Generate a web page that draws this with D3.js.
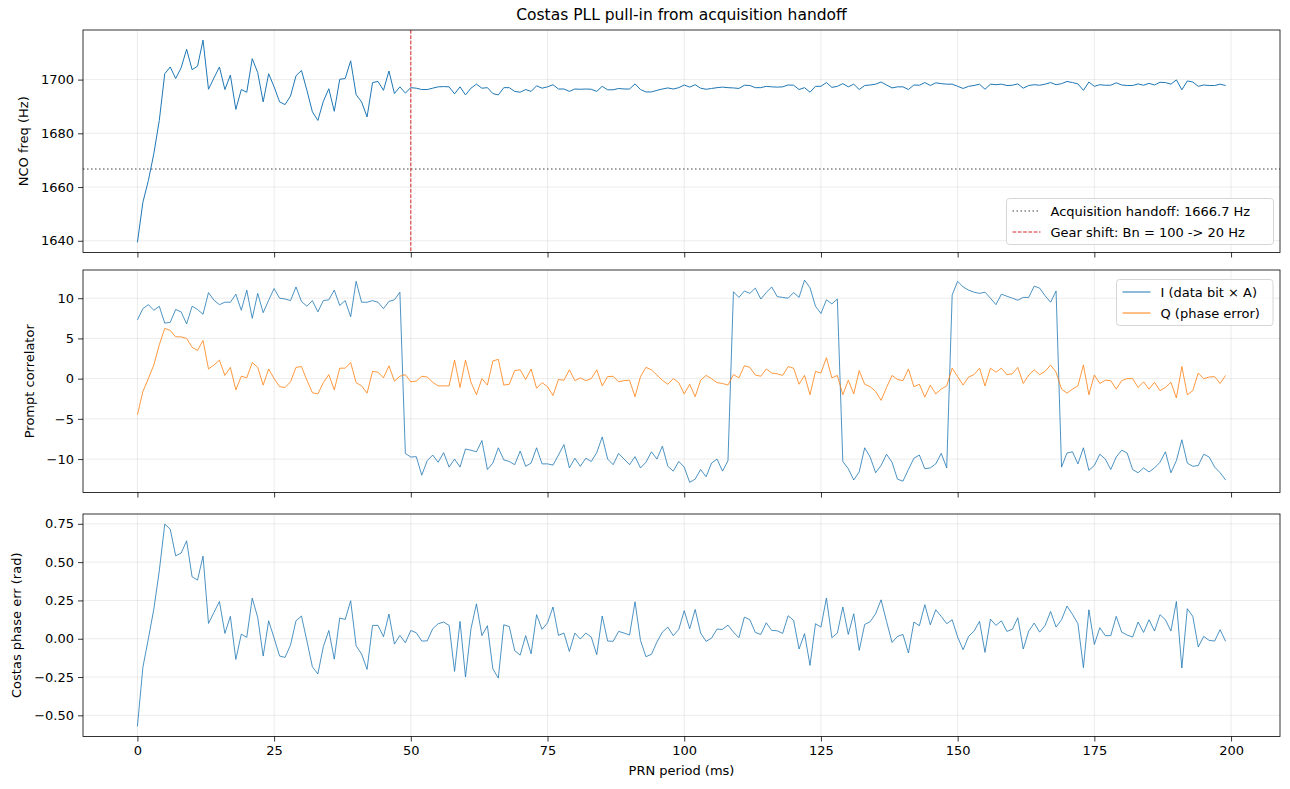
<!DOCTYPE html>
<html>
<head>
<meta charset="utf-8">
<script src="https://cdn.jsdelivr.net/npm/d3@7"></script>
<style>
  body { margin: 0; background: #fff; }
  svg text { font-family: "DejaVu Sans", sans-serif; fill: #000; }
</style>
</head>
<body>
<svg id="chart"></svg>
<script>
// PRN period index (ms)
const prnPeriod = d3.range(200);

// NCO frequency (Hz)
const ncoFreq = [
  1639.4, 1654.3, 1662.4, 1672.4, 1684.8, 1702.2, 1704.7, 1700.4, 1704.4, 1711.3,
  1703.7, 1705.0, 1714.7, 1696.4, 1700.6, 1704.7, 1696.3, 1701.7, 1688.9, 1696.3,
  1695.3, 1707.8, 1702.6, 1691.7, 1702.2, 1697.3, 1691.7, 1690.7, 1693.9, 1701.4,
  1703.4, 1696.0, 1688.0, 1684.8, 1691.9, 1696.6, 1688.2, 1700.1, 1700.4, 1707.0,
  1694.4, 1691.7, 1686.1, 1698.9, 1699.3, 1696.0, 1703.2, 1694.8, 1697.3, 1695.0,
  1697.0, 1696.8, 1696.3, 1696.3, 1696.8, 1697.3, 1697.4, 1697.3, 1694.7, 1697.3,
  1694.3, 1696.8, 1698.3, 1696.8, 1697.0, 1694.8, 1694.3, 1697.0, 1697.0, 1695.6,
  1695.3, 1696.3, 1695.6, 1697.7, 1696.8, 1697.3, 1698.1, 1696.5, 1696.5, 1695.6,
  1696.5, 1696.4, 1696.5, 1696.4, 1695.6, 1697.5, 1696.2, 1696.2, 1696.7, 1696.5,
  1696.5, 1698.4, 1696.3, 1695.4, 1695.4, 1696.0, 1696.5, 1696.9, 1696.5, 1697.0,
  1698.0, 1697.2, 1698.1, 1696.8, 1696.4, 1696.7, 1697.0, 1697.2, 1697.0, 1696.9,
  1696.7, 1697.9, 1697.8, 1697.0, 1697.0, 1697.5, 1697.3, 1697.2, 1697.3, 1698.0,
  1697.9, 1696.3, 1697.0, 1695.3, 1697.5, 1697.5, 1698.9, 1697.1, 1697.5, 1698.5,
  1697.3, 1698.3, 1696.3, 1697.8, 1698.0, 1698.3, 1699.1, 1698.0, 1696.9, 1697.3,
  1697.3, 1696.3, 1698.0, 1697.9, 1698.9, 1697.8, 1698.8, 1698.5, 1698.3, 1698.3,
  1697.5, 1696.7, 1697.5, 1697.8, 1698.3, 1696.4, 1698.3, 1698.1, 1698.3, 1697.8,
  1697.9, 1698.4, 1696.8, 1697.8, 1698.1, 1697.9, 1698.3, 1698.9, 1698.1, 1698.5,
  1699.3, 1698.9, 1698.4, 1696.0, 1699.1, 1697.5, 1698.1, 1697.9, 1697.9, 1698.8,
  1698.0, 1697.8, 1697.8, 1698.4, 1697.9, 1698.6, 1698.0, 1699.0, 1698.9, 1698.3,
  1699.9, 1696.2, 1699.5, 1699.1, 1697.5, 1698.0, 1697.8, 1697.8, 1698.3, 1697.8
];

// prompt correlator, in-phase arm
const promptI = [
  7.3, 8.7, 9.2, 8.5, 9.0, 6.9, 7.0, 8.6, 8.3, 6.8,
  9.0, 8.6, 8.0, 10.7, 9.75, 9.2, 9.5, 9.5, 10.5, 8.5,
  11.0, 7.5, 10.6, 8.2, 9.75, 11.2, 10.0, 9.9, 9.7, 11.4,
  9.6, 9.0, 9.7, 8.3, 9.7, 9.8, 11.0, 9.1, 9.7, 7.7,
  12.1, 9.5, 9.5, 9.7, 9.5, 8.7, 9.6, 9.8, 10.75, -9.3,
  -9.75, -9.7, -12.0, -10.2, -9.5, -10.4, -9.2, -11.0, -10.0, -11.0,
  -8.75, -8.9, -9.1, -7.7, -11.3, -10.5, -8.6, -10.1, -10.3, -10.7,
  -9.0, -10.9, -10.5, -8.6, -10.6, -10.6, -10.75, -9.5, -8.2, -11.1,
  -9.9, -10.9, -9.9, -10.3, -9.2, -7.25, -10.0, -10.7, -9.3, -10.0,
  -10.7, -9.7, -11.1, -10.4, -9.1, -10.0, -8.4, -10.9, -11.5, -10.3,
  -11.0, -12.9, -12.5, -11.3, -12.2, -10.5, -10.0, -11.5, -10.2, 10.8,
  10.1, 10.9, 10.6, 11.25, 9.9, 10.7, 11.4, 10.2, 10.1, 10.0,
  10.7, 10.1, 12.25, 11.3, 9.0, 8.1, 9.8, 9.3, 9.9, -10.3,
  -11.2, -12.6, -11.6, -8.6, -9.75, -11.7, -10.8, -9.4, -10.4, -12.5,
  -12.75, -11.3, -9.9, -9.5, -11.2, -11.1, -10.6, -9.3, -11.1, 10.4,
  12.1, 11.4, 11.0, 10.75, 10.6, 10.75, 10.0, 9.2, 10.5, 10.25,
  10.0, 9.75, 10.1, 10.1, 11.5, 11.25, 10.3, 9.5, 10.9, -11.0,
  -9.25, -9.1, -10.6, -8.6, -11.4, -10.8, -9.4, -10.0, -11.3, -9.75,
  -8.9, -9.25, -11.3, -11.7, -11.1, -11.6, -11.1, -10.4, -9.1, -11.7,
  -10.2, -7.6, -10.5, -10.9, -10.8, -9.4, -9.75, -11.0, -11.7, -12.6
];

// prompt correlator, quadrature arm
const promptQ = [
  -4.5, -1.6, 0.0, 1.7, 4.2, 6.25, 6.0, 5.2, 5.2, 5.0,
  3.9, 3.5, 4.75, 1.2, 1.7, 2.3, 0.4, 1.4, -1.4, 0.3,
  0.1, 2.0, 1.4, -0.8, 1.2, 0.0, -1.0, -1.1, -0.4, 1.4,
  1.5, -0.2, -1.75, -1.9, -0.5, 0.5, -1.4, 1.3, 1.3, 2.0,
  -0.5, -0.9, -1.8, 0.9, 0.8, 0.1, 1.6, -0.3, 0.3, 0.5,
  -0.4, -0.3, 0.3, 0.2, -0.45, -0.9, -0.9, -0.9, 2.3, -1.1,
  2.3, -0.45, -2.0, 0.0, -0.8, 2.2, 2.4, -0.8, -0.7, 1.0,
  1.1, -0.1, 1.2, -1.2, -0.5, -1.0, -2.1, -0.1, -0.2, 1.1,
  -0.25, 0.1, -0.25, 0.0, 1.1, -0.9, 0.25, 0.3, -0.4, -0.25,
  -0.2, -2.25, 0.25, 1.4, 1.1, 0.45, -0.2, -0.7, 0.0, -0.5,
  -1.9, -0.7, -2.25, -0.2, 0.4, 0.0, -0.5, -0.6, -0.8, 0.5,
  0.1, 1.6, 1.4, 0.45, 0.3, 1.2, 0.7, 0.6, 0.4, 1.5,
  1.3, -0.7, 0.4, -2.0, 0.9, 0.7, 2.6, 0.1, 0.4, -2.0,
  -0.2, -1.9, 1.0, -0.7, -1.0, -1.6, -2.7, -1.1, 0.4, -0.1,
  -0.25, 1.2, -1.0, -0.7, -2.3, -0.8, -1.9, -1.3, -0.9, 1.3,
  0.25, -0.8, 0.2, 0.5, 1.3, -0.9, 1.3, 0.8, 1.3, 0.5,
  0.6, 1.4, -0.6, 0.45, 1.1, 0.5, 0.9, 1.7, 0.8, -1.3,
  -1.8, -1.3, -0.9, 1.7, -2.0, 0.45, -0.6, -0.2, -0.25, -1.3,
  -0.25, 0.0, 0.0, -1.1, -0.4, -1.3, -0.45, -1.5, -1.1, -0.45,
  -2.4, 1.5, -2.0, -1.5, 0.7, 0.0, 0.2, 0.25, -0.6, 0.4
];

// Costas discriminator output (rad)
const phaseErr = [
  -0.572, -0.187, 0.0, 0.193, 0.443, 0.748, 0.715, 0.541, 0.559, 0.639,
  0.404, 0.383, 0.539, 0.100, 0.172, 0.243, 0.035, 0.146, -0.135, 0.030,
  0.009, 0.265, 0.139, -0.113, 0.117, 0.004, -0.113, -0.122, -0.041, 0.117,
  0.148, -0.015, -0.183, -0.230, -0.052, 0.054, -0.133, 0.135, 0.126, 0.248,
  -0.046, -0.100, -0.200, 0.087, 0.087, 0.013, 0.161, -0.035, 0.022, -0.026,
  0.054, 0.039, -0.015, -0.014, 0.065, 0.098, 0.109, 0.087, -0.213, 0.113,
  -0.250, 0.065, 0.228, 0.020, 0.085, -0.196, -0.257, 0.091, 0.080, -0.078,
  -0.107, 0.020, -0.098, 0.157, 0.061, 0.104, 0.207, 0.022, 0.037, -0.083,
  0.037, -0.002, 0.037, 0.011, -0.104, 0.148, -0.015, -0.017, 0.048, 0.037,
  0.024, 0.241, -0.011, -0.117, -0.102, -0.022, 0.043, 0.076, 0.020, 0.061,
  0.183, 0.065, 0.191, 0.037, -0.017, 0.004, 0.063, 0.061, 0.089, 0.043,
  0.007, 0.141, 0.124, 0.041, 0.028, 0.104, 0.054, 0.052, 0.035, 0.150,
  0.120, -0.067, 0.033, -0.174, 0.098, 0.076, 0.265, 0.007, 0.037, 0.207,
  0.028, 0.163, -0.076, 0.093, 0.111, 0.163, 0.254, 0.113, -0.024, 0.015,
  0.028, -0.093, 0.109, 0.085, 0.222, 0.091, 0.189, 0.146, 0.098, 0.124,
  0.011, -0.072, 0.015, 0.050, 0.113, -0.089, 0.128, 0.087, 0.117, 0.048,
  0.061, 0.137, -0.067, 0.050, 0.102, 0.043, 0.087, 0.178, 0.076, 0.124,
  0.213, 0.159, 0.098, -0.189, 0.189, -0.037, 0.072, 0.020, 0.020, 0.146,
  0.043, 0.024, 0.011, 0.109, 0.041, 0.124, 0.050, 0.157, 0.124, 0.050,
  0.243, -0.191, 0.196, 0.146, -0.054, 0.015, -0.011, -0.015, 0.059, -0.017
];

const handoffFreq = 1666.7;
const gearShiftAt = 50;

const xTicks = [0, 25, 50, 75, 100, 125, 150, 175, 200];
const freqTicks = [1640, 1660, 1680, 1700];
const corrTicks = [-10, -5, 0, 5, 10];
const errTicks = [-0.5, -0.25, 0, 0.25, 0.5, 0.75];

const width = 1290;
const height = 789;
const plotLeft = 83;
const plotRight = 1280;
const panelTop = [30, 270, 514];
const panelHeight = 222.5;

const blue = "#1f77b4";
const orange = "#ff7f0e";

const svg = d3.select("#chart")
  .attr("width", width)
  .attr("height", height);

// matplotlib style 5% padding
function padded(values) {
  const [lo, hi] = d3.extent(values);
  const m = (hi - lo) * 0.05;
  return [lo - m, hi + m];
}

const x = d3.scaleLinear()
  .domain(padded(prnPeriod))
  .range([plotLeft, plotRight]);

function drawPanel(i, yDomain, yTicks, yFormat, yLabel, yLabelX, showX) {
  const top = panelTop[i];
  const bottom = top + panelHeight;
  const y = d3.scaleLinear().domain(yDomain).range([bottom, top]);

  const g = svg.append("g");

  g.append("clipPath").attr("id", "clip" + i)
    .append("rect")
    .attr("x", plotLeft).attr("y", top)
    .attr("width", plotRight - plotLeft).attr("height", panelHeight);

  // grid
  const grid = g.append("g")
    .attr("stroke", "#b0b0b0")
    .attr("stroke-opacity", 0.3)
    .attr("stroke-width", 0.8);
  grid.selectAll(".gx").data(xTicks).enter().append("line")
    .attr("x1", d => x(d)).attr("x2", d => x(d))
    .attr("y1", top).attr("y2", bottom);
  grid.selectAll(".gy").data(yTicks).enter().append("line")
    .attr("x1", plotLeft).attr("x2", plotRight)
    .attr("y1", d => y(d)).attr("y2", d => y(d));

  // axes
  const xAxis = g.append("g")
    .attr("transform", `translate(0,${bottom})`)
    .call(d3.axisBottom(x).tickValues(xTicks).tickSize(5).tickPadding(4)
      .tickFormat(showX ? d3.format("d") : () => ""));
  const yAxis = g.append("g")
    .attr("transform", `translate(${plotLeft},0)`)
    .call(d3.axisLeft(y).tickValues(yTicks).tickSize(5).tickPadding(4)
      .tickFormat(yFormat));
  [xAxis, yAxis].forEach(a => {
    a.select(".domain").remove();
    a.selectAll("text").attr("font-size", 13).attr("fill", "#000");
    a.selectAll("line").attr("stroke", "#000").attr("stroke-width", 0.8);
  });

  g.append("text")
    .attr("transform", `translate(${yLabelX},${(top + bottom) / 2}) rotate(-90)`)
    .attr("text-anchor", "middle")
    .attr("dominant-baseline", "middle")
    .attr("font-size", 13)
    .text(yLabel);

  const plot = g.append("g").attr("clip-path", `url(#clip${i})`);

  return { g, plot, y, top, bottom };
}

function addLine(panel, values, color, lw) {
  const line = d3.line()
    .x((d, k) => x(prnPeriod[k]))
    .y(d => panel.y(d));
  panel.plot.append("path")
    .datum(values)
    .attr("fill", "none")
    .attr("stroke", color)
    .attr("stroke-width", lw)
    .attr("stroke-linejoin", "round")
    .attr("d", line);
}

function frame(panel) {
  panel.g.append("rect")
    .attr("x", plotLeft).attr("y", panel.top)
    .attr("width", plotRight - plotLeft).attr("height", panelHeight)
    .attr("fill", "none").attr("stroke", "#000").attr("stroke-width", 0.8);
}

function legend(panel, x0, y0, w, h, items) {
  const lg = panel.g.append("g");
  lg.append("rect")
    .attr("x", x0).attr("y", y0).attr("width", w).attr("height", h)
    .attr("rx", 3)
    .attr("fill", "#fff").attr("fill-opacity", 0.8)
    .attr("stroke", "#cccccc").attr("stroke-width", 0.8);
  items.forEach((it, k) => {
    const cy = y0 + 12.5 + k * 21;
    lg.append("line")
      .attr("x1", x0 + 6).attr("x2", x0 + 34)
      .attr("y1", cy).attr("y2", cy)
      .attr("stroke", it.color).attr("stroke-width", it.lw)
      .attr("stroke-dasharray", it.dash || null);
    lg.append("text")
      .attr("x", x0 + 44).attr("y", cy)
      .attr("dominant-baseline", "central")
      .attr("font-size", 13)
      .text(it.label);
  });
}

// Panel 1: NCO frequency
const p1 = drawPanel(0, padded(ncoFreq), freqTicks, d3.format("d"), "NCO freq (Hz)", 24, false);
p1.plot.append("line")
  .attr("x1", plotLeft).attr("x2", plotRight)
  .attr("y1", p1.y(handoffFreq)).attr("y2", p1.y(handoffFreq))
  .attr("stroke", "#808080").attr("stroke-width", 1.5)
  .attr("stroke-dasharray", "1.5,2.5");
p1.plot.append("line")
  .attr("x1", x(gearShiftAt)).attr("x2", x(gearShiftAt))
  .attr("y1", p1.top).attr("y2", p1.bottom)
  .attr("stroke", "#d62728").attr("stroke-width", 1)
  .attr("stroke-dasharray", "3.7,1.6");
addLine(p1, ncoFreq, blue, 1);
frame(p1);
legend(p1, 1006.5, 198.5, 267, 46, [
  { label: "Acquisition handoff: 1666.7 Hz", color: "#808080", lw: 1.5, dash: "1.5,2.5" },
  { label: "Gear shift: Bn = 100 -> 20 Hz", color: "#d62728", lw: 1, dash: "3.7,1.6" }
]);

// Panel 2: prompt correlator
const p2 = drawPanel(1, padded(promptI.concat(promptQ)), corrTicks, d3.format("d"), "Prompt correlator", 30, false);
addLine(p2, promptI, blue, 0.8);
addLine(p2, promptQ, orange, 0.8);
frame(p2);
legend(p2, 1116.5, 279.5, 156.5, 46, [
  { label: "I (data bit \u00d7 A)", color: blue, lw: 1 },
  { label: "Q (phase error)", color: orange, lw: 1 }
]);

// Panel 3: Costas phase error
const p3 = drawPanel(2, padded(phaseErr), errTicks, d3.format(".2f"), "Costas phase err (rad)", 17, true);
addLine(p3, phaseErr, blue, 0.8);
frame(p3);

svg.append("text")
  .attr("x", (plotLeft + plotRight) / 2).attr("y", 771)
  .attr("text-anchor", "middle").attr("dominant-baseline", "middle")
  .attr("font-size", 13)
  .text("PRN period (ms)");

svg.append("text")
  .attr("x", (plotLeft + plotRight) / 2).attr("y", 15)
  .attr("text-anchor", "middle").attr("dominant-baseline", "middle")
  .attr("font-size", 15.5)
  .text("Costas PLL pull-in from acquisition handoff");
</script>
</body>
</html>
